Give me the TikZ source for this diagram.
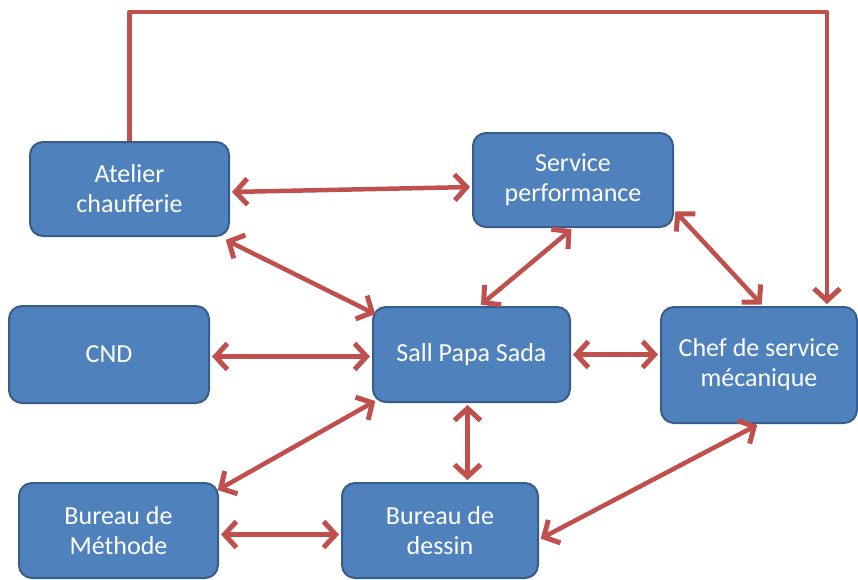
\documentclass[tikz,border=0pt]{standalone}
\usepackage{fontspec}
\setmainfont{Carlito}
\usetikzlibrary{arrows.meta,calc}
\definecolor{boxfill}{HTML}{4F81BD}
\definecolor{boxline}{HTML}{385D8A}
\definecolor{arrred}{HTML}{C0504D}
\tikzset{
  box/.style={draw=boxline, line width=2pt, fill=boxfill, rounded corners=13pt,
    text=white, align=center, inner sep=0pt,
    font=\fontsize{26}{30}\selectfont},
  link/.style={draw=arrred, line width=4.5pt,
    {Straight Barb[length=12pt,width=26pt,line width=5pt]}-{Straight Barb[length=12pt,width=26pt,line width=5pt]},
    shorten <=2pt, shorten >=2pt},
  onelink/.style={draw=arrred, line width=4.5pt, line join=round,
    -{Straight Barb[length=12pt,width=26pt,line width=5pt]}, shorten >=2pt}
}
\begin{document}
\begin{tikzpicture}[x=1pt,y=-1pt]
\useasboundingbox (0,0) rectangle (858,579);
\fill[white] (0,0) rectangle (858,579);
\node[box, minimum width=199pt, minimum height=94pt] (atelier) at (129.5,189) {Atelier\\chaufferie};
\node[box, minimum width=200pt, minimum height=94pt] (service) at (573,180) {Service\\performance};
\node[box, minimum width=200pt, minimum height=97pt] (cnd) at (109,354.5) {CND};
\node[box, minimum width=197pt, minimum height=95pt] (sall) at (471.5,354.5) {Sall Papa Sada};
\node[box, minimum width=196pt, minimum height=116pt] (chef) at (759,365) {Chef de service\\mécanique};
\node[box, minimum width=199pt, minimum height=95pt] (methode) at (118.5,530.5) {Bureau de\\Méthode};
\node[box, minimum width=196pt, minimum height=95pt] (dessin) at (440,530.5) {Bureau de\\dessin};

\coordinate (topY) at (0,12);
\draw[onelink] (atelier.north) -- (atelier.north |- topY) -| ([xshift=68pt]chef.north);

\draw[link] ([yshift=-3pt]atelier.east) -- ([yshift=-7pt]service.west);
\draw[link] ([xshift=-6pt,yshift=-2pt]atelier.south east) -- ([xshift=5pt,yshift=-9pt]sall.north west);
\draw[link] (service.south) -- ([xshift=8pt]sall.north);
\draw[link] ([yshift=-30pt]service.east) -- ([xshift=4pt]chef.north);
\draw[link] ([yshift=-2pt]cnd.east) -- ([yshift=-2pt]sall.west);
\draw[link] (sall.east) -- (sall.east -| chef.west);
\draw[link] ([xshift=5pt,yshift=3pt]sall.south west) -- ([xshift=-3pt,yshift=-9pt]methode.north east);
\draw[link] ([xshift=-4pt]sall.south) -- ([xshift=-4pt]sall.south |- dessin.north);
\draw[link] ([yshift=-4pt]methode.east) -- ([yshift=-4pt]dessin.west);
\draw[link] ([yshift=-9pt]dessin.east) -- (chef.south);
\end{tikzpicture}
\end{document}
